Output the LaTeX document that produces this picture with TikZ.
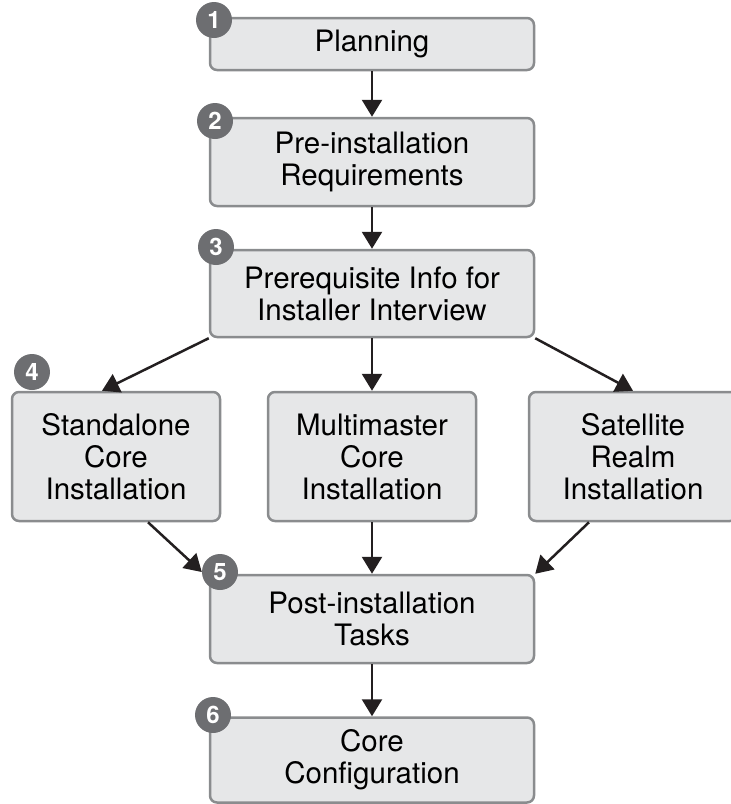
\documentclass[tikz,border=0pt]{standalone}
\usepackage{fontspec}
\setmainfont{TeX Gyre Heros}
\usepackage{tikz}
\usetikzlibrary{arrows.meta}
\definecolor{fondboite}{HTML}{E6E7E8}
\definecolor{bordboite}{HTML}{8A8C8E}
\definecolor{pastille}{HTML}{6D6E71}
\definecolor{fleche}{HTML}{231F20}

\begin{document}
\begin{tikzpicture}[x=1pt,y=1pt,
    boite/.style={draw=bordboite,fill=fondboite,line width=2.5pt,rounded corners=7pt,
        align=center,inner sep=0pt,font=\fontsize{29.5}{32}\selectfont},
    large/.style={boite,minimum width=324pt},
    etroite/.style={boite,minimum width=208pt,minimum height=129pt},
    num/.style={circle,fill=pastille,text=white,minimum size=36pt,inner sep=0pt,
        font=\fontsize{24}{24}\selectfont\bfseries},
    fl/.style={-{Triangle[length=17pt,width=20pt]},line width=2.5pt,draw=fleche}]
    \clip (0,0) rectangle (731,-804);

    % Colonne du milieu
    \node[large,minimum height=52pt] (plan) at (372,-44) {Planning};
    \node[large,minimum height=88pt] (prereq) at (372,-162) {Pre-installation\\Requirements};
    \node[large,minimum height=87pt] (info) at (372,-293.5) {Prerequisite Info for\\Installer Interview};

    % Trois variantes d'installation
    \node[etroite] (standalone) at (116,-456.5) {Standalone\\Core\\Installation};
    \node[etroite] (multi) at (372,-456.5) {Multimaster\\Core\\Installation};
    \node[etroite] (sat) at (633,-456.5) {Satellite\\Realm\\Installation};

    % Fin du parcours
    \node[large,minimum height=88pt] (post) at (372,-619) {Post-installation\\Tasks};
    \node[large,minimum height=85pt] (config) at (372,-760) {Core\\Configuration};

    % Fleches
    \draw[fl] (plan) -- (prereq);
    \draw[fl] (prereq) -- (info);
    \draw[fl] (info.south west) -- ([xshift=-14pt]standalone.north);
    \draw[fl] (info) -- (multi);
    \draw[fl] (info.south east) -- (sat.north);
    \draw[fl] (multi) -- (post);
    \draw[fl] ([xshift=-44pt]sat.south) -- (post.north east);
    \draw[fl] (post) -- (config);

    % Pastilles numerotees
    \node[num] (b1) at (214,-20) {1};
    \node[num] (b2) at (215,-121) {2};
    \node[num] (b3) at (216,-247) {3};
    \node[num] (b4) at (32,-372) {4};
    \node[num] (b5) at (220,-572) {5};
    \node[num] (b6) at (213,-715) {6};
    \draw[fl] ([xshift=32pt]standalone.south) -- (b5.west);
\end{tikzpicture}
\end{document}
